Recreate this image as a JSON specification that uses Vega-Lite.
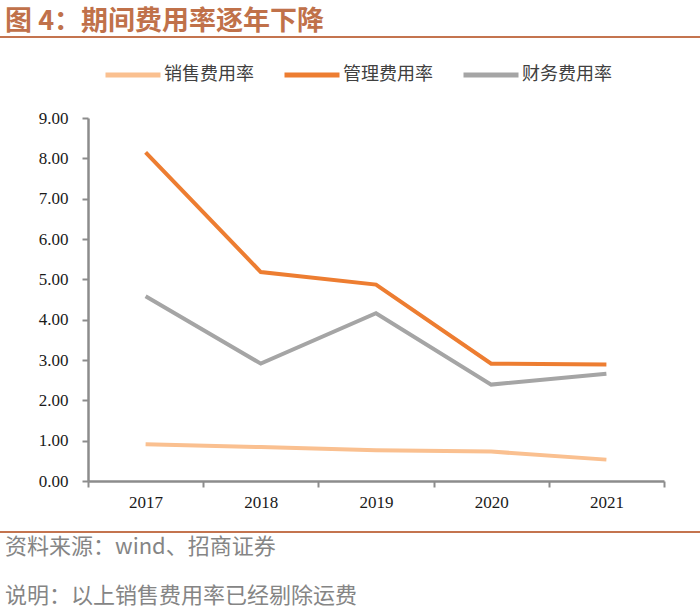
{
  "$schema": "https://vega.github.io/schema/vega-lite/v6.json",
  "padding": {"top": 8, "left": 0, "right": 0, "bottom": 6},
  "background": "white",
  "spacing": 0,
  "config": {"view": {"stroke": null}, "font": "Noto Sans CJK SC"},
  "datasets": {
    "rates": [
      {"year": "2017", "series": "销售费用率", "value": 0.91},
      {"year": "2018", "series": "销售费用率", "value": 0.84},
      {"year": "2019", "series": "销售费用率", "value": 0.76},
      {"year": "2020", "series": "销售费用率", "value": 0.73},
      {"year": "2021", "series": "销售费用率", "value": 0.53},
      {"year": "2017", "series": "管理费用率", "value": 8.15},
      {"year": "2018", "series": "管理费用率", "value": 5.18},
      {"year": "2019", "series": "管理费用率", "value": 4.87},
      {"year": "2020", "series": "管理费用率", "value": 2.91},
      {"year": "2021", "series": "管理费用率", "value": 2.89},
      {"year": "2017", "series": "财务费用率", "value": 4.58},
      {"year": "2018", "series": "财务费用率", "value": 2.91},
      {"year": "2019", "series": "财务费用率", "value": 4.16},
      {"year": "2020", "series": "财务费用率", "value": 2.39},
      {"year": "2021", "series": "财务费用率", "value": 2.66}
    ]
  },
  "vconcat": [
    {
      "width": 700,
      "height": 2,
      "data": {"values": []},
      "mark": "text",
      "view": {"fill": "#C4744F", "stroke": null},
      "title": {
        "text": "图 4：期间费用率逐年下降",
        "anchor": "start",
        "frame": "group",
        "fontSize": 27,
        "fontWeight": "bold",
        "font": "Noto Sans CJK SC",
        "color": "#C0714A",
        "offset": 0,
        "dx": 5
      }
    },
    {
      "width": 700,
      "height": 71,
      "data": {"values": []},
      "mark": "text"
    },
    {
      "width": 700,
      "height": 363,
      "data": {"name": "rates"},
      "mark": {"type": "line", "strokeWidth": 4},
      "encoding": {
        "x": {
          "field": "year",
          "type": "ordinal",
          "bandPosition": 0.5,
          "scale": {"type": "band", "range": [88, 664], "paddingInner": 0, "paddingOuter": 0},
          "axis": {
            "title": null,
            "labelAngle": 0,
            "tickBand": "extent",
            "domainColor": "#8C8C8C",
            "domainWidth": 2.5,
            "tickColor": "#8C8C8C",
            "tickWidth": 2,
            "tickSize": 6,
            "labelFont": "Liberation Serif",
            "labelFontSize": 17,
            "labelColor": "#1A1A1A",
            "labelPadding": 7,
            "minExtent": 50,
            "maxExtent": 50
          }
        },
        "y": {
          "field": "value",
          "type": "quantitative",
          "scale": {"domain": [0, 9], "nice": false},
          "axis": {
            "title": null,
            "offset": -88,
            "values": [0, 1, 2, 3, 4, 5, 6, 7, 8, 9],
            "format": ".2f",
            "grid": false,
            "domainColor": "#8C8C8C",
            "domainWidth": 2.5,
            "tickColor": "#8C8C8C",
            "tickWidth": 2,
            "tickSize": 6,
            "labelFont": "Liberation Serif",
            "labelFontSize": 17,
            "labelColor": "#1A1A1A",
            "labelPadding": 14
          }
        },
        "color": {
          "field": "series",
          "type": "nominal",
          "sort": ["销售费用率", "管理费用率", "财务费用率"],
          "scale": {
            "domain": ["销售费用率", "管理费用率", "财务费用率"],
            "range": ["#FAC090", "#ED7D31", "#A5A5A5"]
          },
          "legend": {
            "title": null,
            "orient": "none",
            "direction": "horizontal",
            "legendX": 103,
            "legendY": 9,
            "padding": 0,
            "symbolType": "stroke",
            "symbolSize": 3025,
            "symbolStrokeWidth": 5,
            "labelOffset": 1,
            "columnPadding": 20,
            "labelFont": "Noto Sans CJK SC",
            "labelFontSize": 18,
            "labelColor": "#404040",
            "labelLimit": 200
          }
        }
      }
    },
    {
      "width": 700,
      "height": 2,
      "data": {"values": []},
      "mark": "text",
      "view": {"fill": "#C4744F", "stroke": null},
      "title": {
        "text": ["资料来源：wind、招商证券", "说明：以上销售费用率已经剔除运费"],
        "orient": "bottom",
        "anchor": "start",
        "frame": "group",
        "fontSize": 22,
        "fontWeight": "normal",
        "font": "Noto Sans CJK SC",
        "color": "#858585",
        "lineHeight": 49,
        "offset": 4,
        "dx": 5
      }
    }
  ]
}
